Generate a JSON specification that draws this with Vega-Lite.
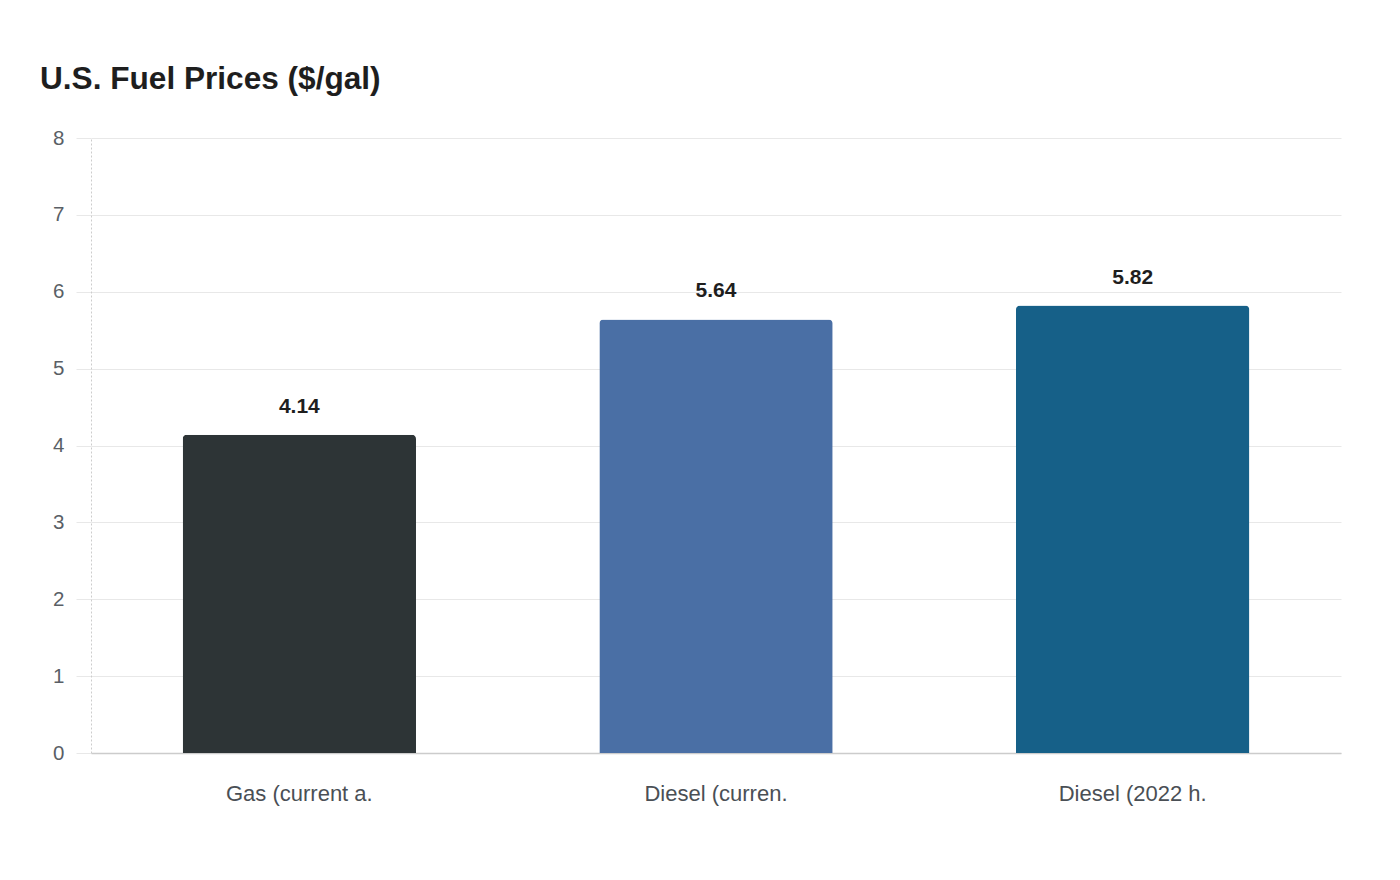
{
  "$schema": "https://vega.github.io/schema/vega-lite/v6.json",
  "autosize": "none",
  "padding": {"left": 91, "top": 138, "right": 59, "bottom": 127},
  "width": 1250,
  "height": 615,
  "background": "white",
  "title": {
    "text": "U.S. Fuel Prices ($/gal)",
    "anchor": "start",
    "frame": "group",
    "dx": -51,
    "offset": 32,
    "fontSize": 31.6,
    "fontWeight": "bold",
    "font": "Liberation Sans",
    "color": "#1e1e1e"
  },
  "data": {
    "values": [
      {"fuel": "Gas (current a.", "price": 4.14},
      {"fuel": "Diesel (curren.", "price": 5.64},
      {"fuel": "Diesel (2022 h.", "price": 5.82}
    ]
  },
  "config": {
    "view": {"stroke": null},
    "font": "Liberation Sans"
  },
  "encoding": {
    "x": {
      "field": "fuel",
      "type": "nominal",
      "sort": null,
      "scale": {"paddingInner": 0.44, "paddingOuter": 0.22},
      "axis": {
        "title": null,
        "labelAngle": 0,
        "labelFontSize": 22,
        "labelColor": "#4a4f55",
        "labelPadding": 30,
        "ticks": false,
        "domainColor": "#cccccc",
        "domainWidth": 1.5,
        "grid": false
      }
    },
    "y": {
      "field": "price",
      "type": "quantitative",
      "scale": {"domain": [0, 8]},
      "axis": {
        "title": null,
        "tickCount": 8,
        "labelFontSize": 20.5,
        "labelColor": "#5a5f66",
        "labelPadding": 12,
        "tickSize": 15,
        "tickColor": "#e8e8e8",
        "gridColor": "#e8e8e8",
        "domainColor": "#cccccc",
        "domainDash": [2, 2],
        "domainWidth": 1
      }
    }
  },
  "layer": [
    {
      "mark": {"type": "bar", "cornerRadiusTopLeft": 4, "cornerRadiusTopRight": 4},
      "encoding": {
        "color": {
          "field": "fuel",
          "type": "nominal",
          "sort": null,
          "legend": null,
          "scale": {"range": ["#2d3436", "#4a6fa5", "#166088"]}
        }
      }
    },
    {
      "mark": {"type": "text", "dy": -28, "fontSize": 21, "fontWeight": "bold", "color": "#1e1e1e"},
      "encoding": {
        "text": {"field": "price", "type": "quantitative", "format": ".2f"}
      }
    }
  ]
}
